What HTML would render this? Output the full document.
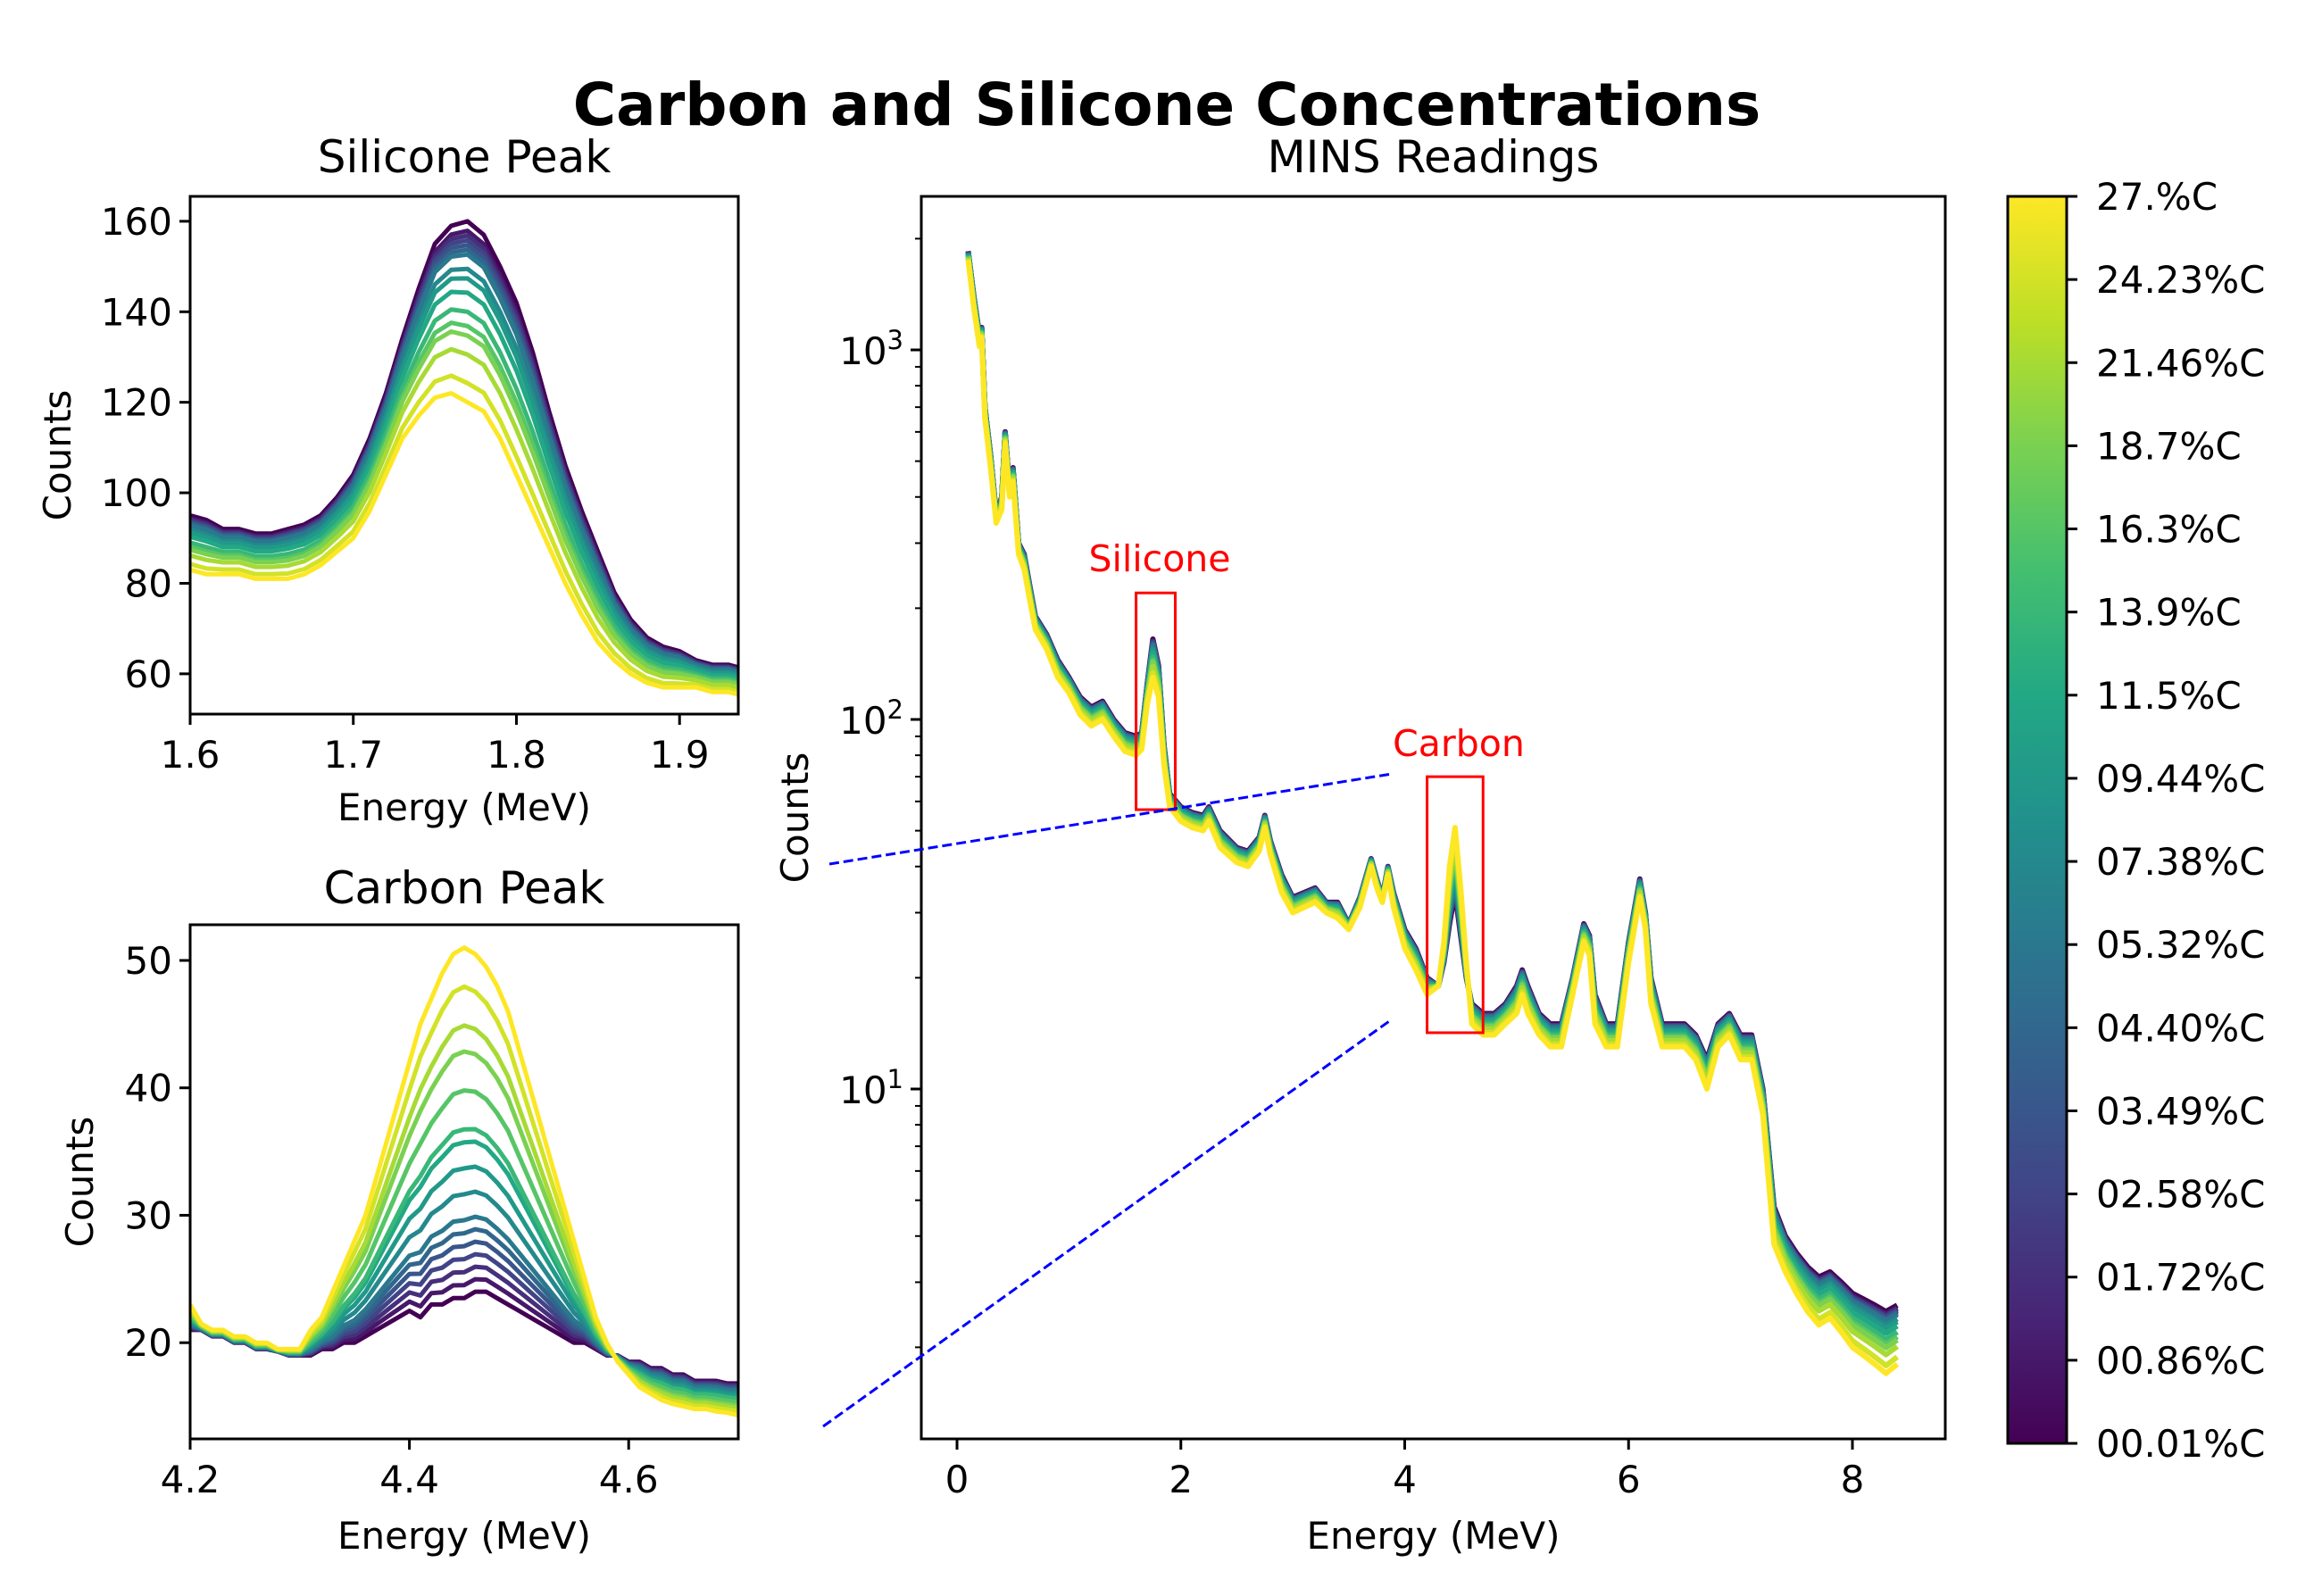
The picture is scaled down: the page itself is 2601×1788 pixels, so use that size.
<!DOCTYPE html>
<html><head><meta charset="utf-8"><style>
html,body{margin:0;padding:0;background:#fff}
svg{display:block;font-family:"DejaVu Sans","Liberation Sans",sans-serif}
</style></head><body>
<svg id="fig" width="2601" height="1788" viewBox="0 0 2601 1788" xmlns="http://www.w3.org/2000/svg">
<defs>
<linearGradient id="vir" x1="0" y1="1" x2="0" y2="0">
<stop offset="0" stop-color="#440154"/><stop offset="0.1" stop-color="#482475"/><stop offset="0.2" stop-color="#414487"/><stop offset="0.3" stop-color="#355f8d"/><stop offset="0.4" stop-color="#2a788e"/><stop offset="0.5" stop-color="#21918c"/><stop offset="0.6" stop-color="#22a884"/><stop offset="0.7" stop-color="#44bf70"/><stop offset="0.8" stop-color="#7ad151"/><stop offset="0.9" stop-color="#bddf26"/><stop offset="1" stop-color="#fde725"/>
</linearGradient>
<clipPath id="cSil"><rect x="213" y="220" width="614" height="580"/></clipPath>
<clipPath id="cCar"><rect x="213" y="1036" width="614" height="576"/></clipPath>
<clipPath id="cMain"><rect x="1032" y="220" width="1147" height="1392"/></clipPath>
</defs>
<text x="1307" y="140" font-size="66" font-weight="bold" text-anchor="middle">Carbon and Silicone Concentrations</text>
<g id="gSil"></g>
<g id="gCar"></g>
<g id="gMain"></g>
<g id="gCbar"></g>
</svg>
<script>
const NS="http://www.w3.org/2000/svg";
const seriesLabels=["00.01%C","00.86%C","01.72%C","02.58%C","03.49%C","04.40%C","05.32%C","07.38%C","09.44%C","11.5%C","13.9%C","16.3%C","18.7%C","21.46%C","24.23%C","27.%C"];
const silX0=1.60, silStep=0.01;
const silDark=[95,94,92,92,91,91,92,93,95,99,104,112,122,134,145,155,159,160,157,150,142,131,118,106,96,87,78,72,68,66,65,63,62,62,61];
const silYellow=[83,82,82,82,81,81,81,82,84,87,90,96,104,112,117,121,122,120,118,112,104,96,88,80,73,67,63,60,58,57,57,57,56,56,55];
const silPeaks=[160,158,157,156,155,154,153,150,148,145,141,138,136,132,126,122];
const carX0=4.20, carStep=0.01;
const carDark=[21,21,20.5,20.5,20,20,19.5,19.5,19.3,19,19,19,19.5,19.5,20,20,20.5,21,21.5,22,22.5,22,23,23,23.5,23.5,24,24,23.5,23,22.5,22,21.5,21,20.5,20,20,19.5,19,19,18.5,18.5,18,18,17.5,17.5,17,17,17,16.8,16.8];
const carYellow=[23,21.5,21,21,20.5,20.5,20,20,19.5,19.5,19.5,21,22,24,26,28,30,33,36,39,42,45,47,49,50.5,51,50.5,49.5,48,46,43,40,37,34,31,28,25,22,20,18.5,17.5,16.5,16,15.5,15.2,15,14.8,14.8,14.6,14.5,14.3];
const carPeaks=[24,25,26,27,28,29,30,32,34,36,37,40,43,45,48,51];
const mainX=[0.1,0.15,0.2,0.22,0.25,0.3,0.35,0.4,0.43,0.47,0.5,0.55,0.6,0.65,0.7,0.8,0.9,1.0,1.1,1.2,1.3,1.4,1.5,1.6,1.65,1.7,1.75,1.8,1.85,1.9,2.0,2.1,2.2,2.25,2.35,2.5,2.6,2.7,2.75,2.8,2.9,3.0,3.1,3.2,3.3,3.4,3.5,3.6,3.7,3.75,3.8,3.85,3.9,4.0,4.1,4.2,4.3,4.35,4.4,4.45,4.5,4.55,4.6,4.7,4.8,4.9,5.0,5.05,5.1,5.2,5.3,5.4,5.5,5.6,5.65,5.7,5.8,5.9,6.0,6.1,6.15,6.2,6.3,6.4,6.5,6.6,6.7,6.8,6.9,7.0,7.1,7.2,7.3,7.4,7.5,7.6,7.7,7.8,7.9,8.0,8.1,8.2,8.3,8.4];
const mainDark=[1850,1400,1100,1150,700,520,360,400,600,420,480,300,280,230,190,170,145,130,115,108,112,100,92,90,92,125,165,140,85,63,58,56,55,58,50,45,44,48,55,47,38,33,34,35,32,32,28,33,42,37,33,40,34,27,24,20,19,22,28,34,26,20,17,16,16,17,19,21,19,16,15,15,20,28,26,18,15,15,25,37,30,20,15,15,15,14,12,15,16,14,14,10,4.8,4,3.6,3.3,3.1,3.2,3.0,2.8,2.7,2.6,2.5,2.6];
const mainYellow=[1750,1300,1020,1080,650,480,340,370,560,400,440,280,255,210,175,155,130,118,103,96,100,90,82,80,83,110,130,115,75,58,53,51,50,53,45,41,40,44,51,43,34,30,31,32,30,29,27,31,40,35,32,38,31,24,21,18,19,25,40,51,35,22,15,14,14,15,16,18,16,14,13,13,18,25,23,15,13,13,22,33,27,17,13,13,13,12,10,13,14,12,12,8.5,3.8,3.2,2.8,2.5,2.3,2.4,2.2,2.0,1.9,1.8,1.7,1.8];
const silXTicks=[1.6,1.7,1.8,1.9], silYTicks=[60,80,100,120,140,160];
const carXTicks=[4.2,4.4,4.6], carYTicks=[20,30,40,50];
const mainXTicks=[0,2,4,6,8], mainYDecades=[1,2,3];

const VS=[[0,"#440154"],[0.1,"#482475"],[0.2,"#414487"],[0.3,"#355f8d"],[0.4,"#2a788e"],[0.5,"#21918c"],[0.6,"#22a884"],[0.7,"#44bf70"],[0.8,"#7ad151"],[0.9,"#bddf26"],[1,"#fde725"]];
function hx(h){return [1,3,5].map(i=>parseInt(h.substr(i,2),16));}
function viridis(t){for(let i=0;i<VS.length-1;i++){if(t<=VS[i+1][0]){const f=(t-VS[i][0])/(VS[i+1][0]-VS[i][0]);const a=hx(VS[i][1]),b=hx(VS[i+1][1]);return "rgb("+a.map((v,k)=>Math.round(v+(b[k]-v)*f)).join(",")+")";}}return VS[VS.length-1][1];}
function mk(tag,attrs,parent){const e=document.createElementNS(NS,tag);for(const k in attrs)e.setAttribute(k,attrs[k]);parent.appendChild(e);return e;}
function txt(s,attrs,parent){const e=mk("text",attrs,parent);e.textContent=s;return e;}

function linAxis(d0,d1,p0,p1){return v=>p0+(v-d0)/(d1-d0)*(p1-p0);}
const FS=42;

function frame(g,L,T,R,B,name){
  const r=mk("rect",{x:L,y:T,width:R-L,height:B-T,fill:"none",stroke:"#000","stroke-width":3},g);
  
  
}
function xTicks(g,ticks,sx,B,fmt){
  ticks.forEach(t=>{const x=sx(t);
    const l=mk("line",{x1:x,x2:x,y1:B,y2:B+12,stroke:"#000","stroke-width":3},g);
    
    
    const s=txt(fmt(t),{x:x,y:B+60,"font-size":FS,"text-anchor":"middle"},g);
    
    
  });
}
function yTicks(g,ticks,sy,L,fmt){
  ticks.forEach(t=>{const y=sy(t);
    const l=mk("line",{x1:L-12,x2:L,y1:y,y2:y,stroke:"#000","stroke-width":3},g);
    
    
    const s=txt(fmt(t),{x:L-20,y:y+15,"font-size":FS,"text-anchor":"end"},g);
    
    
  });
}
function label(g,s,x,y,rot,size,name){
  const a={x:x,y:y,"font-size":size,"text-anchor":"middle"};
  if(rot)a.transform="rotate(-90 "+x+" "+y+")";
  const e=txt(s,a,g);
  
  
}
function mixFrom(peaks,i){return (peaks[0]-peaks[i])/(peaks[0]-peaks[peaks.length-1]);}
function drawSeries(g,clip,xs,dark,yellow,peaks,sx,sy,w,namePrefix){
  const cg=mk("g",{"clip-path":"url(#"+clip+")"},g);
  for(let i=0;i<seriesLabels.length;i++){
    const m=mixFrom(peaks,i);
    let d="";
    for(let j=0;j<Math.min(xs.length,dark.length,yellow.length);j++){
      const v=dark[j]+(yellow[j]-dark[j])*m;
      d+=(j?"L":"M")+sx(xs[j]).toFixed(1)+","+sy(v).toFixed(1);
    }
    const p=mk("path",{d:d,fill:"none",stroke:viridis(i/(seriesLabels.length-1)),"stroke-width":w,"stroke-linejoin":"round"},cg);
    
    
  }
}

// Silicone panel
(function(){
  const g=document.getElementById("gSil");
  const L=213,R=827,T=220,B=800;
  const sx=linAxis(1.6,1.936,L,R), sy=linAxis(51.1,165.5,B,T);
  const xs=silDark.map((_,j)=>silX0+j*silStep);
  drawSeries(g,"cSil",xs,silDark,silYellow,silPeaks,sx,sy,5,"silicone");
  frame(g,L,T,R,B,"silicone-axes-frame");
  xTicks(g,silXTicks,sx,B,v=>v.toFixed(1));
  yTicks(g,silYTicks,sy,L,v=>String(v));
  label(g,"Silicone Peak",(L+R)/2,T-27,false,50,"silicone-panel-title");
  label(g,"Energy (MeV)",(L+R)/2,B+119,false,FS,"silicone-x-axis-title");
  label(g,"Counts",79,(T+B)/2,true,FS,"silicone-y-axis-title");
})();

// Carbon panel
(function(){
  const g=document.getElementById("gCar");
  const L=213,R=827,T=1036,B=1612;
  const sx=linAxis(4.2,4.7,L,R), sy=linAxis(12.45,52.8,B,T);
  const xs=carDark.map((_,j)=>carX0+j*carStep);
  drawSeries(g,"cCar",xs,carDark,carYellow,carPeaks,sx,sy,5,"carbon");
  frame(g,L,T,R,B,"carbon-axes-frame");
  xTicks(g,carXTicks,sx,B,v=>v.toFixed(1));
  yTicks(g,carYTicks,sy,L,v=>String(v));
  label(g,"Carbon Peak",(L+R)/2,T-24,false,50,"carbon-panel-title");
  label(g,"Energy (MeV)",(L+R)/2,B+123,false,FS,"carbon-x-axis-title");
  label(g,"Counts",104,(T+B)/2,true,FS,"carbon-y-axis-title");
})();

// Main panel
(function(){
  const g=document.getElementById("gMain");
  const L=1032,R=2179,T=220,B=1612;
  const sx=linAxis(0,8,1072,2075);
  const sy=v=>392+(3-Math.log10(v))*414;
  drawSeries(g,"cMain",mainX,mainDark,mainYellow,silPeaks,sx,sy,6,"mins");
  frame(g,L,T,R,B,"mins-axes-frame");
  xTicks(g,mainXTicks,sx,B,v=>String(v));
  for(let e=0;e<=3;e++){for(let k=2;k<=9;k++){const v=k*Math.pow(10,e);const y=sy(v);
    if(y<T||y>B)continue;
    const l=mk("line",{x1:L-7,x2:L,y1:y,y2:y,stroke:"#000","stroke-width":2},g);
    
    }}
  mainYDecades.forEach(e=>{const y=sy(Math.pow(10,e));
    const l=mk("line",{x1:L-12,x2:L,y1:y,y2:y,stroke:"#000","stroke-width":3},g);
    
    
    const t=mk("text",{x:L-20,y:y+16,"font-size":FS,"text-anchor":"end"},g);
    
    
    const a=mk("tspan",{},t);a.textContent="10";
    const b=mk("tspan",{dy:-17,"font-size":29},t);b.textContent=String(e);
  });
  label(g,"MINS Readings",(L+R)/2,T-27,false,50,"mins-panel-title");
  label(g,"Energy (MeV)",(L+R)/2,B+123,false,FS,"mins-x-axis-title");
  label(g,"Counts",905,(T+B)/2,true,FS,"mins-y-axis-title");
  const b1=mk("rect",{x:sx(1.6),y:sy(220),width:sx(1.95)-sx(1.6),height:sy(57)-sy(220),fill:"none",stroke:"#ff0000","stroke-width":3},g);
  
  
  const b2=mk("rect",{x:sx(4.2),y:sy(70),width:sx(4.7)-sx(4.2),height:sy(14.2)-sy(70),fill:"none",stroke:"#ff0000","stroke-width":3},g);
  
  
  const t1=txt("Silicone",{x:1299,y:640,"font-size":41,fill:"#ff0000","text-anchor":"middle"},g);
  
  
  const t2=txt("Carbon",{x:1634,y:847,"font-size":41,fill:"#ff0000","text-anchor":"middle"},g);
  
  
  const d1=mk("line",{x1:929,y1:968,x2:1559,y2:867,stroke:"#0000ff","stroke-width":3,"stroke-dasharray":"11,5"},g);
  
  
  const d2=mk("line",{x1:922,y1:1598,x2:1559,y2:1142,stroke:"#0000ff","stroke-width":3,"stroke-dasharray":"11,5"},g);
  
  
})();

// Colorbar
(function(){
  const g=document.getElementById("gCbar");
  const L=2249,R=2315,T=220,B=1617;
  const r=mk("rect",{x:L,y:T,width:R-L,height:B-T,fill:"url(#vir)",stroke:"#000","stroke-width":3},g);
  
  
  const n=seriesLabels.length;
  for(let i=0;i<n;i++){const y=B-(B-T)*i/(n-1);
    const l=mk("line",{x1:R,x2:R+12,y1:y,y2:y,stroke:"#000","stroke-width":3},g);
    
    
    const s=txt(seriesLabels[i],{x:R+33,y:y+15,"font-size":FS},g);
    
    
  }
})();
</script>
</body></html>
